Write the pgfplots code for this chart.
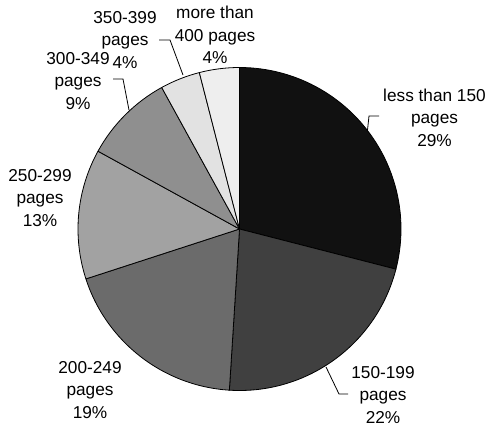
\documentclass[border=0pt]{standalone}
\usepackage{pgfplots}
\usepackage{pgfplotstable}
\pgfplotsset{compat=1.18}
\usepackage{fontspec}
\setmainfont{Liberation Sans}

% slice fills, in drawing order (clockwise from 12 o'clock)
\definecolor{slice0}{HTML}{111111}
\definecolor{slice1}{HTML}{404040}
\definecolor{slice2}{HTML}{6B6B6B}
\definecolor{slice3}{HTML}{A2A2A2}
\definecolor{slice4}{HTML}{8F8F8F}
\definecolor{slice5}{HTML}{E2E2E2}
\definecolor{slice6}{HTML}{EEEEEE}

\tikzset{lbl/.style={font=\fontsize{17.3}{22.5}\selectfont, align=center, inner sep=0pt}}

% share of books by page count, in percent
\pgfplotstableread[col sep=comma]{
group,share
less than 150,29
150-199,22
200-249,19
250-299,13
300-349,9
350-399,4
400+,4
}\pagecounts

\begin{document}
\begin{tikzpicture}
% cumulative start/end angles of every slice
\pgfplotstablegetrowsof{\pagecounts}
\pgfmathtruncatemacro\lastrow{\pgfplotsretval-1}
\gdef\startangle{90}
\foreach \i in {0,...,\lastrow}{%
  \pgfplotstablegetelem{\i}{share}\of\pagecounts
  \pgfmathsetmacro\endangle{\startangle-3.6*\pgfplotsretval}%
  \expandafter\xdef\csname sliceA\i\endcsname{\startangle}%
  \expandafter\xdef\csname sliceB\i\endcsname{\endangle}%
  \xdef\startangle{\endangle}%
}
\begin{axis}[
  hide axis, clip=false,
  x=1bp, y=1bp,
  xmin=-239.5, xmax=248.5, ymin=-198, ymax=229,
]
\path (axis cs:-239.5,-198) rectangle (axis cs:248.5,229);
\pgfplotsinvokeforeach{0,1,2,3,4,5,6}{%
  \edef\drawslice{\noexpand\fill[fill=slice#1, draw=black, line width=0.8bp, line join=round]
    (axis cs:0,0) -- ++(\csname sliceA#1\endcsname:161.5bp)
    arc[start angle=\csname sliceA#1\endcsname, end angle=\csname sliceB#1\endcsname, radius=161.5bp] -- cycle;}%
  \drawslice
}
% leader lines
\draw[line width=0.8bp] (axis cs:-80.5,189) -- (axis cs:-69.5,189) -- (axis cs:-56.5,154);
\draw[line width=0.8bp] (axis cs:-126.5,150) -- (axis cs:-116.5,150) -- (axis cs:-110.5,119);
\draw[line width=0.8bp] (axis cs:86.5,-138) -- (axis cs:99.5,-165) -- (axis cs:108.5,-165);
\draw[line width=0.8bp] (axis cs:139.5,113) -- (axis cs:129.5,113) -- (axis cs:128,99);
% slice labels
\node[lbl] at (axis cs:195,111.5) {less than 150\\pages\\29\%};
\node[lbl] at (axis cs:143.5,-166) {150-199\\pages\\22\%};
\node[lbl] at (axis cs:-149.5,-161) {200-249\\pages\\19\%};
\node[lbl] at (axis cs:-199.5,31) {250-299\\pages\\13\%};
\node[lbl] at (axis cs:-161.5,148) {300-349\\pages\\9\%};
\node[lbl] at (axis cs:-114.5,189) {350-399\\pages\\4\%};
\node[lbl] at (axis cs:-24.5,194) {more than\\400 pages\\4\%};
\end{axis}
\end{tikzpicture}
\end{document}
